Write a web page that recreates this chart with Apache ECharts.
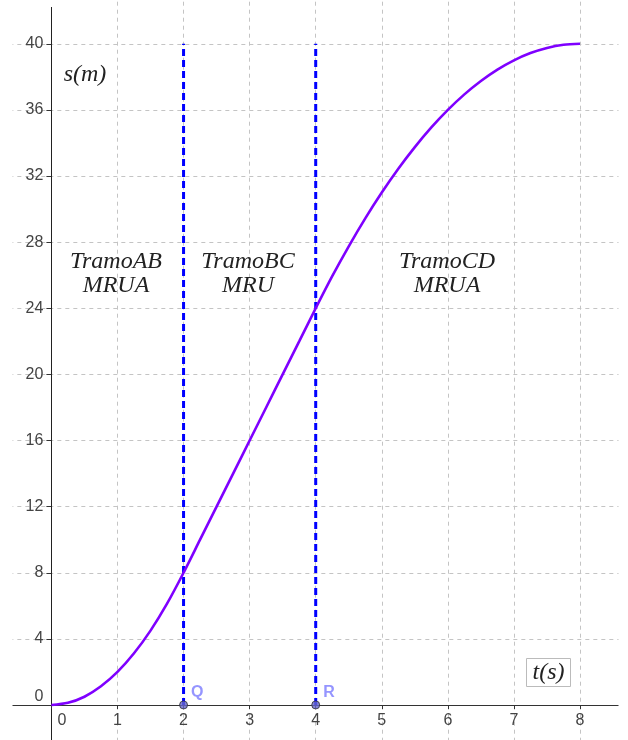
<!DOCTYPE html>
<html>
<head>
<meta charset="utf-8">
<script src="https://cdn.jsdelivr.net/npm/echarts@6/dist/echarts.min.js"></script>
<style>html,body{margin:0;padding:0;background:#fff}#chart{width:628px;height:740px}</style>
</head>
<body>
<div id="chart"></div>
<script>
// time values t (s)
const tValues = [0,0.25,0.5,0.75,1,1.25,1.5,1.75,2,2.25,2.5,2.75,3,3.25,3.5,3.75,4,4.25,4.5,4.75,5,5.25,5.5,5.75,6,6.25,6.5,6.75,7,7.25,7.5,7.75,8];
// position values s (m)
const sValues = [0,0.13,0.5,1.13,2,3.13,4.5,6.13,8,10,12,14,16,18,20,22,24,25.94,27.75,29.44,31,32.44,33.75,34.94,36,36.94,37.75,38.44,39,39.44,39.75,39.94,40];
// boundaries between sections (vertical dashed lines) and their points
const boundaryT = [2, 4];
const boundaryTop = 40;
const pointNames = ['Q', 'R'];
// section labels
const sectionLabels = ['TramoAB\nMRUA', 'TramoBC\nMRU', 'TramoCD\nMRUA'];
const yAxisTitle = 's(m)';
const xAxisTitle = 't(s)';

const chart = echarts.init(document.getElementById('chart'));
const curve = tValues.map((t, i) => [t, sValues[i]]);
const tickFont = { fontFamily: 'Liberation Sans', fontSize: 16, color: '#444' };
const mathFont = 'italic 24px "Liberation Serif"';

// grid geometry (pixels) : x=0 at 51.4px, 66.08 px/unit ; y=0 at 705px, 16.53 px/unit
const gLeft = -14.68, gRight = -18.1, gTop = -22.3, gBottom = -31.1;

const series = [
  {
    type: 'line', data: curve, smooth: 0.3, symbol: 'none', z: 5,
    lineStyle: { color: '#7f00ff', width: 2.6 }
  }
];
boundaryT.forEach((t) => {
  series.push({
    type: 'line', data: [[t, 0], [t, boundaryTop]], symbol: 'none', z: 4,
    lineStyle: { color: '#0000ff', width: 3, type: [7, 4] }
  });
});
series.push({
  type: 'scatter', z: 6,
  data: boundaryT.map((t, i) => ({ value: [t, 0], name: pointNames[i] })),
  symbolSize: 8,
  itemStyle: { color: '#6666cc', borderColor: '#333', borderWidth: 1 },
  label: {
    show: true, formatter: p => p.name, position: 'right', offset: [0, -12],
    distance: 3,
    fontFamily: 'Liberation Sans', fontWeight: 'bold', fontSize: 16, color: '#7b7bff'
  }
});

chart.setOption({
  animation: false,
  backgroundColor: '#fff',
  grid: { left: gLeft, right: gRight, top: gTop, bottom: gBottom, outerBoundsMode: 'none', containLabel: false },
  xAxis: {
    type: 'value', min: -1, max: 9, interval: 1,
    position: 'bottom',
    offset: -66.1,
    axisLine: { onZero: false, lineStyle: { color: '#333', width: 1 } },
    axisTick: { show: true, length: 4, lineStyle: { color: '#333' } },
    splitLine: { show: true, lineStyle: { color: '#c4c4c4', width: 1, type: [4, 4] } },
    axisLabel: Object.assign({
      margin: 8,
      formatter: v => (v < 0 || v > 8) ? '' : (v === 0 ? '{z|0}' : String(v)),
      rich: { z: Object.assign({ padding: [0, 0, 0, 21] }, tickFont) }
    }, tickFont)
  },
  yAxis: {
    type: 'value', min: -4, max: 44, interval: 4,
    position: 'left',
    offset: -66.08,
    axisLine: { onZero: false, lineStyle: { color: '#222', width: 1 } },
    axisTick: { show: true, length: 5, lineStyle: { color: '#333' } },
    splitLine: { show: true, lineStyle: { color: '#c4c4c4', width: 1, type: [4, 4] } },
    axisLabel: Object.assign({
      margin: 8,
      formatter: v => (v < 0 || v > 40) ? '' : (v === 0 ? '{z|0}' : String(v)),
      rich: { z: Object.assign({ padding: [0, 0, 16, 0] }, tickFont) }
    }, tickFont)
  },
  series: series,
  graphic: [
    // margins of the drawing area (the reference's axes stop short of the edges)
    { type: 'rect', z: 1, silent: true, shape: { x: 0, y: 0, width: 12.5, height: 740 }, style: { fill: '#fff' } },
    { type: 'rect', z: 1, silent: true, shape: { x: 618.5, y: 0, width: 10, height: 740 }, style: { fill: '#fff' } },
    { type: 'rect', z: 1, silent: true, shape: { x: 49, y: 0, width: 5, height: 7 }, style: { fill: '#fff' } },
    { type: 'text', x: 85, y: 75, z: 10, style: { text: yAxisTitle, font: mathFont, fill: '#222', textAlign: 'center', textVerticalAlign: 'middle' } },
    { type: 'text', x: 116, y: 274, z: 10, style: { text: sectionLabels[0], font: mathFont, fill: '#222', textAlign: 'center', textVerticalAlign: 'middle', lineHeight: 24 } },
    { type: 'text', x: 248, y: 274, z: 10, style: { text: sectionLabels[1], font: mathFont, fill: '#222', textAlign: 'center', textVerticalAlign: 'middle', lineHeight: 24 } },
    { type: 'text', x: 447, y: 274, z: 10, style: { text: sectionLabels[2], font: mathFont, fill: '#222', textAlign: 'center', textVerticalAlign: 'middle', lineHeight: 24 } },
    { type: 'rect', z: 10, shape: { x: 526.5, y: 658.5, width: 44, height: 28 }, style: { fill: '#fff', stroke: '#bbb', lineWidth: 1 } },
    { type: 'text', x: 548.5, y: 673, z: 11, style: { text: xAxisTitle, font: mathFont, fill: '#222', textAlign: 'center', textVerticalAlign: 'middle' } }
  ]
});
</script>
</body>
</html>
